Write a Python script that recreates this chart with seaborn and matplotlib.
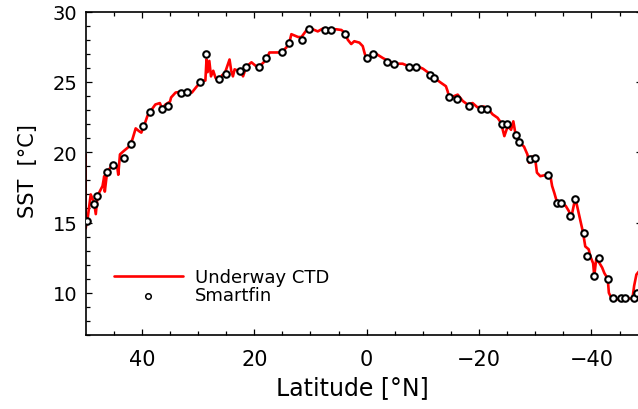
import numpy as np
import pandas as pd
import matplotlib
matplotlib.use("Agg")
import matplotlib.pyplot as plt
import seaborn as sns

# ==========================
# Data
# ==========================

# underway CTD track (latitude, SST)
ctd_lat = [50.0, 50.0, 49.6, 49.1, 48.5, 48.2, 47.9, 47.0, 46.7, 46.6,
           46.2, 45.3, 44.4, 44.2, 43.9, 43.2, 42.3, 41.7, 41.1, 40.5,
           40.1, 39.6, 39.0, 38.5, 37.6, 36.8, 36.4, 35.8, 35.0, 34.8,
           34.0, 33.1, 32.0, 31.1, 30.2, 29.3, 28.7, 28.5, 28.3, 28.0,
           27.7, 27.3, 26.9, 26.3, 25.7, 25.3, 24.4, 24.1, 23.8, 23.5,
           22.9, 22.3, 22.0, 21.4, 20.5, 19.6, 18.7, 17.85, 17.3, 16.4,
           15.2, 14.3, 13.7, 13.4, 12.8, 12.2, 11.6, 11.05, 10.5, 9.6,
           8.7, 7.8, 6.6, 5.4, 4.5, 3.9, 3.35, 2.75, 2.2, 1.3,
           0.7, 0.4, 0.1, -0.8, -1.7, -2.9, -4.05, -5.2, -6.4, -7.6,
           -9.1, -10.0, -10.85, -12.35, -13.2, -14.1, -14.4, -14.7, -15.6, -16.2,
           -17.1, -17.95, -18.85, -19.7, -20.9, -21.8, -22.4, -23.3, -23.9, -24.5,
           -25.1, -25.7, -26.1, -26.4, -27.15, -28.0, -28.6, -28.9, -29.45, -30.0,
           -30.3, -30.9, -32.1, -32.7, -33.0, -33.4, -33.9, -34.5, -35.4, -36.0,
           -36.4, -36.9, -37.1, -37.6, -38.0, -38.5, -38.9, -39.5, -39.8, -40.3,
           -40.5, -40.85, -41.45, -41.9, -42.3, -42.9, -43.1, -43.4, -44.0, -45.2,
           -46.4, -47.3, -47.6, -48.0, -48.6]
ctd_sst = [19.85, 14.6, 15.45, 17.0, 16.4, 15.6, 16.9, 17.6, 18.3, 17.2,
           18.55, 19.1, 19.0, 18.4, 19.85, 20.1, 20.4, 20.9, 21.7, 21.5,
           21.4, 21.9, 22.6, 22.9, 23.4, 23.5, 23.1, 23.4, 23.6, 23.9,
           24.25, 24.3, 24.35, 24.25, 24.7, 25.1, 25.1, 26.6, 25.7, 26.5,
           25.4, 25.8, 25.3, 25.0, 25.5, 25.55, 26.6, 25.8, 25.4, 25.9,
           25.8, 25.7, 25.4, 26.1, 26.4, 26.1, 26.25, 26.6, 27.1, 27.1,
           27.1, 27.45, 27.9, 28.4, 28.3, 28.2, 28.2, 28.5, 28.8, 28.75,
           28.6, 28.8, 28.75, 28.75, 28.7, 28.5, 28.0, 27.7, 27.9, 27.8,
           27.55, 27.1, 26.7, 26.85, 27.0, 26.7, 26.45, 26.3, 26.3, 26.1,
           26.1, 25.95, 25.7, 25.2, 24.95, 24.7, 24.35, 23.9, 24.0, 24.1,
           23.65, 23.4, 23.5, 23.2, 23.25, 23.0, 22.7, 22.45, 22.1, 21.15,
           21.85, 21.6, 22.2, 21.5, 20.7, 20.4, 19.85, 19.25, 19.7, 19.5,
           18.55, 18.3, 18.4, 18.3, 17.6, 17.1, 16.4, 16.3, 16.2, 15.8,
           15.35, 16.3, 16.8, 15.9, 15.2, 14.3, 13.3, 13.1, 12.6, 12.1,
           11.2, 12.4, 12.1, 11.8, 11.4, 11.0, 10.0, 9.75, 9.5, 9.6,
           9.6, 9.6, 10.5, 11.3, 11.6]

# Smartfin samples
fin_lat = [49.7, 48.5, 47.9, 46.2, 45.1, 43.1, 42.0, 39.8, 38.6, 36.4,
           35.4, 33.1, 32.0, 29.6, 28.6, 26.3, 25.1, 22.6, 21.5, 19.2,
           17.9, 15.1, 13.9, 11.5, 10.2, 7.5, 6.4, 3.8, 0.0, -1.1,
           -3.6, -4.9, -7.5, -8.7, -11.2, -12.0, -14.7, -16.0, -18.3, -20.3,
           -21.5, -24.1, -24.9, -26.6, -27.1, -29.0, -30.0, -32.3, -33.9, -34.6,
           -36.1, -37.0, -38.6, -39.2, -40.5, -41.4, -43.0, -43.8, -45.3, -46.0,
           -47.6, -48.1]
fin_sst = [15.1, 16.3, 16.9, 18.6, 19.1, 19.6, 20.6, 21.9, 22.9, 23.1,
           23.3, 24.2, 24.3, 25.0, 27.0, 25.2, 25.6, 25.8, 26.1, 26.1,
           26.7, 27.1, 27.8, 28.0, 28.8, 28.7, 28.7, 28.4, 26.7, 27.0,
           26.45, 26.3, 26.1, 26.1, 25.5, 25.3, 23.9, 23.8, 23.3, 23.1,
           23.1, 22.0, 22.0, 21.2, 20.7, 19.5, 19.6, 18.4, 16.4, 16.4,
           15.5, 16.7, 14.25, 12.6, 11.2, 12.45, 11.0, 9.6, 9.6, 9.6,
           9.6, 10.0]

ctd = pd.DataFrame({'lat': ctd_lat, 'sst': ctd_sst})
fin = pd.DataFrame({'lat': fin_lat, 'sst': fin_sst})

# ==========================
# Plot
# ==========================

sns.set_style('ticks')
plt.rcParams['font.family'] = ['DejaVu Sans']
plt.rcParams['axes.linewidth'] = 1.2
for k in ['text.color', 'axes.labelcolor', 'axes.edgecolor',
          'xtick.color', 'ytick.color']:
    plt.rcParams[k] = 'black'

fig = plt.figure(figsize=(6.38, 4.10), dpi=100)
ax = fig.add_axes([0.1343, 0.1805, 0.872, 0.7885])

sns.lineplot(data=ctd, x='lat', y='sst', sort=False, estimator=None,
             color='red', linewidth=1.9, label='Underway CTD', ax=ax)
sns.scatterplot(data=fin, x='lat', y='sst', marker='o', s=22,
                facecolor='white', edgecolor='black', linewidth=1.5,
                label='Smartfin', zorder=3, ax=ax)

ax.set_xlim(50, -49)
ax.set_ylim(7, 30)
ax.set_xticks([40, 20, 0, -20, -40])
ax.set_xticks(np.arange(45, -50, -5), minor=True)
ax.set_yticks([10, 15, 20, 25, 30])
ax.set_yticks(np.arange(7, 31, 1), minor=True)

ax.tick_params(which='both', direction='in', top=True, right=True, width=0.9)
ax.tick_params(which='major', length=4.5)
ax.tick_params(which='minor', length=3)
ax.tick_params(axis='x', labelsize=15, pad=10)
ax.tick_params(axis='y', labelsize=14, pad=6)

ax.set_xlabel('Latitude [°N]', fontsize=17)
ax.set_ylabel('SST  [°C]', fontsize=15)
ax.xaxis.set_label_coords(0.479, -0.125)
ax.yaxis.set_label_coords(-0.085, 0.51)

leg = ax.legend(loc='upper left', bbox_to_anchor=(0.051, 0.206),
                frameon=False, fontsize=13, borderpad=0, borderaxespad=0,
                labelspacing=0, handlelength=3.8, handletextpad=0.7)
for h in leg.legend_handles:
    if hasattr(h, 'set_sizes'):
        h.set_sizes([16])
        h.set_linewidth(1.1)

fig.savefig('out.png', dpi=100)
